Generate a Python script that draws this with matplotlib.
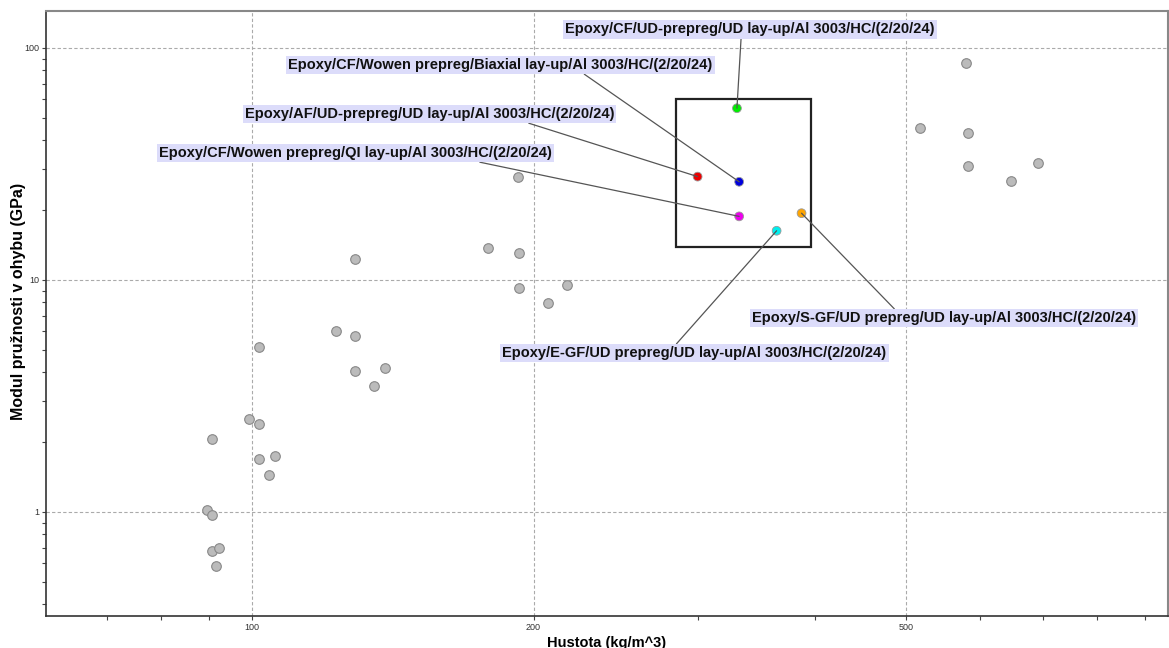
import matplotlib
matplotlib.use("Agg")
import matplotlib.pyplot as plt
from matplotlib.patches import Rectangle
from matplotlib.ticker import LogLocator, FixedLocator, NullFormatter, FixedFormatter

plt.rcParams['font.family'] = ['Liberation Sans', 'DejaVu Sans']

# background materials (density kg/m^3, flexural modulus GPa)
gray_density = [101.9, 105.9, 104.3, 89.6, 90.7, 90.7, 92.3, 91.7,
                122.9, 129.0, 101.7, 129.0, 138.9, 135.0, 99.3, 101.9, 90.7,
                192.3, 178.6, 193.1, 128.8, 193.1, 217.3, 207.1,
                578.8, 516.9, 582.0, 582.0, 691.4, 647.0]
gray_modulus = [1.69, 1.74, 1.45, 1.02, 0.97, 0.679, 0.702, 0.587,
                6.05, 5.74, 5.14, 4.05, 4.18, 3.49, 2.52, 2.39, 2.07,
                27.7, 13.8, 13.1, 12.3, 9.26, 9.54, 7.98,
                86.1, 45.1, 43.0, 30.9, 31.8, 26.6]

# highlighted sandwich panels
hl_names = ["Epoxy/CF/UD-prepreg/UD lay-up/Al 3003/HC/(2/20/24)",
            "Epoxy/CF/Wowen prepreg/Biaxial lay-up/Al 3003/HC/(2/20/24)",
            "Epoxy/AF/UD-prepreg/UD lay-up/Al 3003/HC/(2/20/24)",
            "Epoxy/CF/Wowen prepreg/QI lay-up/Al 3003/HC/(2/20/24)",
            "Epoxy/S-GF/UD prepreg/UD lay-up/Al 3003/HC/(2/20/24)",
            "Epoxy/E-GF/UD prepreg/UD lay-up/Al 3003/HC/(2/20/24)"]
hl_density = [329.8, 331.6, 299.4, 331.6, 386.6, 363.6]
hl_modulus = [55.0, 26.5, 27.9, 18.8, 19.4, 16.3]
hl_colors = ["#00ee00", "#0000dd", "#ee0000", "#ee00ee", "#ffa500", "#00eeee"]

# selection box bounds
sel_density = [284, 396]
sel_modulus = [13.9, 60.5]

# label placement (axes fraction) and where the leader leaves the box
label_pos = [(0.6275, 0.969), (0.4051, 0.9103), (0.3418, 0.8293),
             (0.2758, 0.7649), (0.8004, 0.4923), (0.578, 0.4345)]
label_rel = [(0.476, 0.0), (0.69, 0.0), (0.75, 0.0),
             (0.79, 0.0), (0.376, 1.0), (0.448, 1.0)]

fig = plt.figure(figsize=(11.69, 6.48), dpi=100)
ax = fig.add_axes([46/1169, 1 - 616/648, 1122/1169, (616 - 10.7)/648])

ax.set_xscale('log')
ax.set_yscale('log')
ax.set_xlim(60.3, 952)
ax.set_ylim(0.356, 144.8)

ax.xaxis.set_major_locator(FixedLocator([100, 200, 500]))
ax.xaxis.set_major_formatter(FixedFormatter(['100', '200', '500']))
ax.xaxis.set_minor_locator(FixedLocator([70, 80, 90, 300, 400, 600, 700, 800, 900]))
ax.xaxis.set_minor_formatter(NullFormatter())
ax.yaxis.set_major_locator(FixedLocator([1, 10, 100]))
ax.yaxis.set_major_formatter(FixedFormatter(['1', '10', '100']))
ax.yaxis.set_minor_locator(LogLocator(base=10, subs=range(2, 10)))
ax.yaxis.set_minor_formatter(NullFormatter())

ax.tick_params(which='both', direction='out', length=3, width=0.8,
               color='#444444', labelsize=6.5, labelcolor='#333333', pad=2)
ax.grid(True, which='major', linestyle=(0, (3, 2)), color='#aaaaaa', linewidth=0.8)
ax.set_axisbelow(True)

for side in ['left', 'bottom']:
    ax.spines[side].set_color('#333333')
    ax.spines[side].set_linewidth(1.2)
for side in ['top', 'right']:
    ax.spines[side].set_color('#888888')
    ax.spines[side].set_linewidth(1.5)

ax.scatter(gray_density, gray_modulus, s=48, c='#bbbbbb', edgecolors='#888888',
           linewidths=0.8, zorder=3)

ax.add_patch(Rectangle((sel_density[0], sel_modulus[0]),
                       sel_density[1] - sel_density[0], sel_modulus[1] - sel_modulus[0],
                       fill=False, edgecolor='#222222', linewidth=1.6, zorder=2))

ax.scatter(hl_density, hl_modulus, s=40, c=hl_colors, edgecolors='#999999',
           linewidths=0.6, zorder=4)

for name, x, y, pos, rel in zip(hl_names, hl_density, hl_modulus, label_pos, label_rel):
    ax.annotate(name, xy=(x, y), xycoords='data', xytext=pos, textcoords='axes fraction',
                ha='center', va='center', fontsize=10.5, fontweight='bold', color='#111111',
                bbox=dict(boxstyle='square,pad=0.15', fc='#dcdcfa', ec='none'),
                arrowprops=dict(arrowstyle='-', color='#555555', lw=0.9,
                                relpos=rel, shrinkA=0, shrinkB=0),
                zorder=5)

ax.set_xlabel('Hustota (kg/m^3)', fontsize=10.5, fontweight='bold', labelpad=3)
ax.set_ylabel('Modul pružnosti v ohybu (GPa)', fontsize=11.5, fontweight='bold')
ax.yaxis.set_label_coords(-0.018, 0.52)

fig.savefig('out.png', dpi=100)
